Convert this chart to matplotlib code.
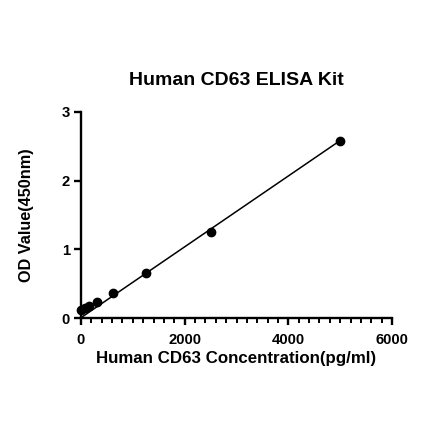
import matplotlib
matplotlib.use("Agg")
import matplotlib.pyplot as plt
from matplotlib.ticker import MultipleLocator
import numpy as np

plt.rcParams['font.family'] = 'sans-serif'
plt.rcParams['font.sans-serif'] = ['Liberation Sans']
plt.rcParams['font.weight'] = 'bold'
plt.rcParams['axes.labelweight'] = 'bold'
plt.rcParams['axes.titleweight'] = 'bold'

conc = [0, 78, 156, 312, 625, 1250, 2500, 5000]
od = [0.12, 0.145, 0.18, 0.24, 0.37, 0.66, 1.26, 2.58]
fit_slope = 0.000514
fit_intercept = 0.01
title = "Human CD63 ELISA Kit"
xlabel = "Human CD63 Concentration(pg/ml)"
ylabel = "OD Value(450nm)"

fig = plt.figure(figsize=(4.40, 4.41), dpi=100)
ax = fig.add_axes([0.184, 0.278, 0.707, 0.469])

lx = np.array([0, 5000])
ax.plot(lx, fit_intercept + fit_slope * lx, color='black', lw=1.1, zorder=2)
ax.plot(conc, od, 'o', color='black', ms=6, zorder=3, clip_on=False)

ax.set_xlim(0, 6000)
ax.set_ylim(0, 3)
ax.xaxis.set_major_locator(MultipleLocator(2000))
ax.xaxis.set_minor_locator(MultipleLocator(200))
ax.yaxis.set_major_locator(MultipleLocator(1))

for s in ['top', 'right']:
    ax.spines[s].set_visible(False)
for s in ['left', 'bottom']:
    ax.spines[s].set_linewidth(1.7)
ax.tick_params(which='major', length=5, width=1.7, labelsize=10.7, pad=3)
ax.tick_params(axis='x', which='major', pad=5.5)
ax.tick_params(which='minor', length=3.5, width=1.4)

ax.set_title(title, fontsize=14, pad=19)
ax.set_xlabel(xlabel, fontsize=12.2, labelpad=3)
fig.text(26 / 440, 1 - 215 / 441, ylabel, fontsize=11.7, fontweight='bold',
         rotation=90, ha='center', va='center')

fig.savefig("out.png", dpi=100, facecolor='white')
